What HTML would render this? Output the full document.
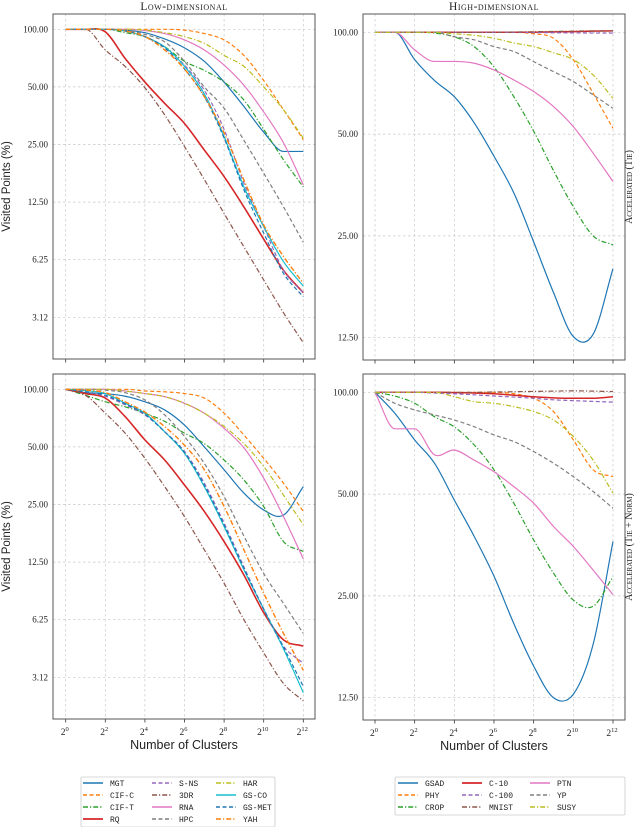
<!DOCTYPE html>
<html><head><meta charset="utf-8">
<style>
html,body{margin:0;padding:0;background:#fff;}
svg{display:block;}
text{font-family:"Liberation Serif",serif;fill:#222;}
.mono{font-family:"Liberation Mono",monospace;font-size:8px;}
</style></head>
<body>
<svg id="chart" width="640" height="827" viewBox="0 0 640 827" xmlns="http://www.w3.org/2000/svg"></svg>
<script>
// ---- data (values in %, at cluster exponents 0..12) ----
const exponents = [0,1,2,3,4,5,6,7,8,9,10,11,12];
const yTicksLow = [100, 50, 25, 12.5, 6.25, 3.125];
const yTickLabelsLow = ["100.00","50.00","25.00","12.50","6.25","3.12"];
const yTicksHigh = [100, 50, 25, 12.5];
const yTickLabelsHigh = ["100.00","50.00","25.00","12.50"];
const xTickExps = [0,2,4,6,8,10,12];

// Low-dimensional, Accelerated (Tie)
const lowTie_MGT   = [100,100,100,99,96,89,80,68,53,39.5,29,23,23];
const lowTie_CIFC  = [100,100,100,100,100,100,99,95,88,73,54,38,26.5];
const lowTie_CIFT  = [100,100,100,96,91.5,81,68,61,53,42.7,30,20.8,15];
const lowTie_RQ    = [100,100,97,70.5,53,41,32.2,23.4,17,11.8,8,5.5,4.2];
const lowTie_SNS   = [100,100,100,98,91.5,80,65,48,30,15.7,9.3,5.5,4.2];
const lowTie_3DR   = [100,100,78,64,49.5,35.7,24.4,16.4,10.9,7.3,4.9,3.3,2.3];
const lowTie_RNA   = [100,100,100,100,98.5,95,88,78,65,51,37,25.5,15.4];
const lowTie_HPC   = [100,100,100,99,94,86,68,50,38.7,26.3,17.7,11.8,7.7];
const lowTie_HAR   = [100,100,100,100,99,96,91.5,84.5,73,64,50,38,27];
const lowTie_GSCO  = [100,100,100,98,91.5,81,64,46,27.5,15,9.3,6.1,4.55];
const lowTie_GSMET = [100,100,100,98,91.5,80,62,44.5,27,14.5,8.6,5.3,4];
const lowTie_YAH   = [100,100,100,98,91.5,78,62,44.5,28.7,16.3,9.5,6.5,4.7];

// Low-dimensional, Accelerated (Tie + Norm)
const lowNorm_MGT   = [100,96,95,92,86,78,65,50,38,28.7,23.4,22,31];
const lowNorm_CIFC  = [100,100,100,100,98,97,95,90,75,57.7,43.6,32.3,23];
const lowNorm_CIFT  = [100,93,86,81,75,68,59,52,42.7,33.6,24.4,16,14.2];
const lowNorm_RQ    = [100,95,90,72,54.4,42.7,31.6,23,16,10.7,6.8,4.9,4.55];
const lowNorm_SNS   = [100,97,92,83,73.5,60,47.3,32.3,20,11.8,7.1,4.55,3.7];
const lowNorm_3DR   = [100,93,75,59,43.6,31,21.6,14.5,9.7,6.25,4.2,2.9,2.35];
const lowNorm_RNA   = [100,100,100,98,95,91.5,84.5,75,62.5,49.5,34.3,21.6,13];
const lowNorm_HPC   = [100,100,99,96,88,73.5,56.6,41,27.5,17.1,10.9,7.6,5.3];
const lowNorm_HAR   = [100,100,100,98,95,91.5,84.5,75,64,52,39.5,28,19.6];
const lowNorm_GSCO  = [100,98.4,95,84.5,75,60,46.3,31,19.2,11.4,7.1,4.4,2.6];
const lowNorm_GSMET = [100,97,93,84,74,60,46.8,31.6,19.6,11.6,7.1,4.5,2.8];
const lowNorm_YAH   = [100,99,96,86,76,63.8,51,38,24.4,14.5,8.6,5.3,3.4];

// High-dimensional, Accelerated (Tie)
const highTie_GSAD  = [100,100,83,72,64.5,54,43,33.5,24,17,12.6,12.8,20];
const highTie_PHY   = [100,100,100,100,100,100,100,100,99,96,83,66,52];
const highTie_CROP  = [100,100,100,99.5,97,90.7,79,64.5,51,39,30.5,25,23.5];
const highTie_C10   = [100,100,100,100,100,100,100,100,100,100.3,100.5,100.8,101];
const highTie_C100  = [100,100,100,100,100,100,100,100,99.8,99.7,99.6,99.5,99.5];
const highTie_MNIST = [100,100,100,100,100,100,100,100.2,100.4,100.6,100.8,101,101];
const highTie_PTN   = [100,100,88.7,82,82,81,77.4,72.3,66.8,60.3,52.6,43.9,36.2];
const highTie_YP    = [100,100,100,100,97,95,90.7,87.7,81.9,76.5,71.5,65.3,59.6];
const highTie_SUSY  = [100,100,100,100,99,98,96,93,90.7,87,83,74.8,63.8];

// High-dimensional, Accelerated (Tie + Norm)
const highNorm_GSAD  = [100,86.7,72.3,61.7,48,37.5,28.6,20.7,15.5,12.5,12.8,18,36.2];
const highNorm_PHY   = [100,100,100,100,100,100,100,99,96,87.7,72.3,59,56.3];
const highNorm_CROP  = [100,97.5,92.8,84.7,79,69.9,59,47,36.6,29.2,24.3,23.3,28.5];
const highNorm_C10   = [100,100,100,100,99.8,99.5,99,98,97,96.3,96,96,97];
const highNorm_C100  = [100,100,100,99.5,99,98.3,97.5,96.8,96,95,94.5,94,93.5];
const highNorm_MNIST = [100,100,100,100,100,100,100.2,100.4,100.6,100.8,101,100.8,100.5];
const highNorm_PTN   = [100,78,78,65.3,67.5,63,58.2,52.6,47,40.1,35,29.8,25.2];
const highNorm_YP    = [100,92.8,88.7,85.7,82.8,79.1,74.8,71.5,66.8,61.7,56.3,50.9,45.4];
const highNorm_SUSY  = [100,100,100,100,97,93.8,92.8,90.7,87.7,82.8,74,63,50.3];

const C = {blue:"#1f77b4",orange:"#ff7f0e",green:"#2ca02c",red:"#d62728",purple:"#9467bd",brown:"#8c564b",pink:"#e377c2",gray:"#7f7f7f",olive:"#bcbd22",cyan:"#17becf"};
const DASH = "4,2.5", DASHDOT = "5,2,1.2,2";
const lowStyles = [
 ["MGT",C.blue,null,1.2],["CIF-C",C.orange,DASH,1.2],["CIF-T",C.green,DASHDOT,1.2],["RQ",C.red,null,1.6],
 ["S-NS",C.purple,DASH,1.2],["3DR",C.brown,DASHDOT,1.2],["RNA",C.pink,null,1.2],["HPC",C.gray,DASH,1.2],
 ["HAR",C.olive,DASHDOT,1.2],["GS-CO",C.cyan,null,1.2],["GS-MET",C.blue,DASH,1.2],["YAH",C.orange,DASHDOT,1.4]];
const highStyles = [
 ["GSAD",C.blue,null,1.2],["PHY",C.orange,DASH,1.2],["CROP",C.green,DASHDOT,1.2],
 ["C-10",C.red,null,1.5],["C-100",C.purple,DASH,1.2],["MNIST",C.brown,DASHDOT,1.2],
 ["PTN",C.pink,null,1.2],["YP",C.gray,DASH,1.2],["SUSY",C.olive,DASHDOT,1.2]];
const lowTieSeries  = [lowTie_MGT,lowTie_CIFC,lowTie_CIFT,lowTie_RQ,lowTie_SNS,lowTie_3DR,lowTie_RNA,lowTie_HPC,lowTie_HAR,lowTie_GSCO,lowTie_GSMET,lowTie_YAH];
const lowNormSeries = [lowNorm_MGT,lowNorm_CIFC,lowNorm_CIFT,lowNorm_RQ,lowNorm_SNS,lowNorm_3DR,lowNorm_RNA,lowNorm_HPC,lowNorm_HAR,lowNorm_GSCO,lowNorm_GSMET,lowNorm_YAH];
const highTieSeries  = [highTie_GSAD,highTie_PHY,highTie_CROP,highTie_C10,highTie_C100,highTie_MNIST,highTie_PTN,highTie_YP,highTie_SUSY];
const highNormSeries = [highNorm_GSAD,highNorm_PHY,highNorm_CROP,highNorm_C10,highNorm_C100,highNorm_MNIST,highNorm_PTN,highNorm_YP,highNorm_SUSY];

const NS="http://www.w3.org/2000/svg";
const svg=document.getElementById('chart');
function mk(tag,attrs,parent){const e=document.createElementNS(NS,tag);for(const k in attrs)e.setAttribute(k,attrs[k]);(parent||svg).appendChild(e);return e;}

// Catmull-Rom, but tangent flattened next to plateau segments (no overshoot at 100%)
function smoothPath(pts){
  const n=pts.length;const t=[];
  for(let i=0;i<n;i++){
    const a=pts[Math.max(0,i-1)],b=pts[Math.min(n-1,i+1)];
    let s=(b[1]-a[1])/(b[0]-a[0]);
    const flatL=i>0&&Math.abs(pts[i][1]-pts[i-1][1])<0.01;
    const flatR=i<n-1&&Math.abs(pts[i+1][1]-pts[i][1])<0.01;
    if(flatL||flatR)s=0;
    t.push(s);
  }
  let d='M'+pts[0][0].toFixed(2)+','+pts[0][1].toFixed(2);
  for(let i=0;i<n-1;i++){
    const h=(pts[i+1][0]-pts[i][0])/3;
    d+=' C'+(pts[i][0]+h).toFixed(2)+','+(pts[i][1]+t[i]*h).toFixed(2)+' '+(pts[i+1][0]-h).toFixed(2)+','+(pts[i+1][1]-t[i+1]*h).toFixed(2)+' '+pts[i+1][0].toFixed(2)+','+pts[i+1][1].toFixed(2);
  }
  return d;
}

function panel(name,box,yTicks,yLabels,series,styles,showX,rightLabel,showYTitle){
  const g=mk('g',{});
  
  
  const xs=e=>box.x0+(e-0)*(box.x12-box.x0)/12;
  const ys=v=>box.y100+Math.log2(100/v)*box.half;
  const cid='clip-'+name;
  const cp=mk('clipPath',{id:cid},g);mk('rect',{x:box.l,y:box.t,width:box.r-box.l,height:box.b-box.t},cp);
  xTickExps.forEach(e=>{const gl=mk('line',{x1:xs(e),x2:xs(e),y1:box.t,y2:box.b,stroke:"#c8c8c8","stroke-width":0.7,"stroke-dasharray":"2.5,2.5"},g);
    
    const tk=mk('line',{x1:xs(e),x2:xs(e),y1:box.b,y2:box.b+3.5,stroke:"#333","stroke-width":0.8},g);
    
    if(showX){const t=mk('text',{x:xs(e)-1,y:box.b+16,"text-anchor":"middle","font-size":"9.5"},g);
      
      t.textContent='2';const s=mk('tspan',{dy:-4,"font-size":"6.5"},t);s.textContent=String(e);}
  });
  yTicks.forEach((v,i)=>{const gl=mk('line',{x1:box.l,x2:box.r,y1:ys(v),y2:ys(v),stroke:"#c8c8c8","stroke-width":0.7,"stroke-dasharray":"2.5,2.5"},g);
    
    const t=mk('text',{x:box.l-5,y:ys(v)+3,"text-anchor":"end","font-size":"9"},g);
    
    t.textContent=yLabels[i];});
  series.forEach((vals,si)=>{
    const st=styles[si];
    const pts=exponents.map((e,i)=>[xs(e),ys(vals[i])]);
    const a={d:smoothPath(pts),fill:"none",stroke:st[1],"stroke-width":st[3],"clip-path":"url(#"+cid+")"};
    if(st[2])a["stroke-dasharray"]=st[2];
    const p=mk('path',a,g);
    
    
  });
  const fr=mk('rect',{x:box.l,y:box.t,width:box.r-box.l,height:box.b-box.t,fill:"none",stroke:"#555","stroke-width":1},g);
  
  if(showX){const t=mk('text',{x:(box.l+box.r)/2,y:box.b+30,"text-anchor":"middle","font-size":"12.5","style":"font-family:'Liberation Sans',sans-serif"},g);
    t.textContent='Number of Clusters';}
  if(showYTitle){const cy=(box.t+box.b)/2;const t=mk('text',{x:10,y:cy,transform:"rotate(-90 10 "+cy+")","text-anchor":"middle","font-size":"11.5","style":"font-family:'Liberation Sans',sans-serif"},g);
    t.textContent='Visited Points (%)';}
  if(rightLabel){const cy=(box.t+box.b)/2;const t=mk('text',{x:632,y:cy,transform:"rotate(-90 632 "+cy+")","text-anchor":"middle","font-size":"10","style":"font-variant:small-caps"},g);
    t.textContent=rightLabel;}
}

const L={l:53,r:315,x0:65.7,x12:303.3,half:57.6};
const R={l:363,r:625,x0:375,x12:613,half:101.8};
panel('panel-low-tie',Object.assign({},L,{t:14,b:359,y100:29.3}),yTicksLow,yTickLabelsLow,lowTieSeries,lowStyles,false,null,true);
panel('panel-low-norm',Object.assign({},L,{t:374,b:719,y100:389.3}),yTicksLow,yTickLabelsLow,lowNormSeries,lowStyles,true,null,true);
panel('panel-high-tie',Object.assign({},R,{t:14,b:360,y100:32.3}),yTicksHigh,yTickLabelsHigh,highTieSeries,highStyles,false,'Accelerated (Tie)',false);
panel('panel-high-norm',Object.assign({},R,{t:374,b:720,y100:392.3}),yTicksHigh,yTickLabelsHigh,highNormSeries,highStyles,true,'Accelerated (Tie + Norm)',false);

[['Low-dimensional',184],['High-dimensional',494]].forEach(tt=>{
  const t=mk('text',{x:tt[1],y:10,"text-anchor":"middle","font-size":"11.5","style":"font-variant:small-caps;letter-spacing:0.5px"});
  t.textContent=tt[0];});

function legend(name,x,y,w,h,styles,cols){
  const g=mk('g',{});
  
  mk('rect',{x:x,y:y,width:w,height:h,fill:"#fff",stroke:"#ccc","stroke-width":0.8,rx:1.5},g);
  const rows=Math.ceil(styles.length/cols.length);
  styles.forEach((st,i)=>{
    const c=Math.floor(i/rows),r=i%rows;const cx=cols[c],cy=y+6+r*12;
    const e=mk('g',{},g);
    
    const a={x1:cx,x2:cx+20,y1:cy,y2:cy,stroke:st[1],"stroke-width":st[3]+0.2};if(st[2])a["stroke-dasharray"]=st[2];
    mk('line',a,e);
    const t=mk('text',{x:cx+27,y:cy+3,"class":"mono"},e);t.textContent=st[0];
  });
}
legend('legend-low',81,777,194,50,lowStyles,[83,152,216]);
legend('legend-high',395,777,230,38,highStyles,[398,462,530]);
</script>
</body></html>
